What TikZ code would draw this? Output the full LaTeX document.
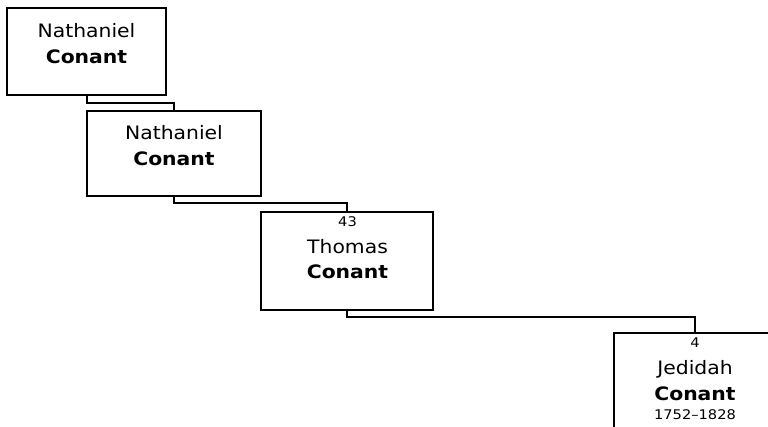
\documentclass[tikz,border=0pt]{standalone}
\usepackage{fontspec}
\setmainfont{DejaVu Sans}[FakeStretch=1.1]
\begin{document}
\begin{tikzpicture}[x=1pt,y=-1pt,
  box/.style={draw=black,line width=2pt,rectangle,inner sep=0pt,outer sep=0pt,fill=white},
  big/.style={anchor=base,inner sep=0pt,font=\fontsize{18.5}{22}\selectfont},
  bigb/.style={anchor=base,inner sep=0pt,font=\fontsize{18.5}{22}\selectfont\bfseries},
  small/.style={anchor=base,inner sep=0pt,font=\fontsize{13.3}{16}\selectfont},
  link/.style={draw=black,line width=2pt}]
\useasboundingbox (0,0) rectangle (768,427);
\clip (0,0) rectangle (768,427);
\node[box,minimum width=159pt,minimum height=87pt] (b1) at (86.5,51.5) {};
\node[box,minimum width=174pt,minimum height=85pt] (b2) at (174,153.5) {};
\node[box,minimum width=172pt,minimum height=98pt] (b3) at (347,261) {};
\node[box,minimum width=162pt,minimum height=108pt] (b4) at (695,387) {};
\coordinate (e1) at (87,103);
\draw[link] (e1 |- b1.south) -- (e1) -| (b2.north);
\draw[link] (b2.south) -- ++(0,7) -| (b3.north);
\draw[link] (b3.south) -- ++(0,7) -| (b4.north);
\node[big] (t1a) at (86.5,37.3) {Nathaniel};
\node[bigb] (t1b) at (86.5,64) {Conant};
\node[big] (t2a) at (174,139.3) {Nathaniel};
\node[bigb] (t2b) at (174,165.7) {Conant};
\node[small] (t3n) at (347.5,226.7) {43};
\node[big] (t3a) at (347.5,253.3) {Thomas};
\node[bigb] (t3b) at (347.5,278.3) {Conant};
\node[small] (t4n) at (695,347.7) {4};
\node[big] (t4a) at (695,374.3) {Jedidah};
\node[bigb] (t4b) at (695,400) {Conant};
\node[small] (t4d) at (695,419.3) {1752–1828};
\end{tikzpicture}
\end{document}
